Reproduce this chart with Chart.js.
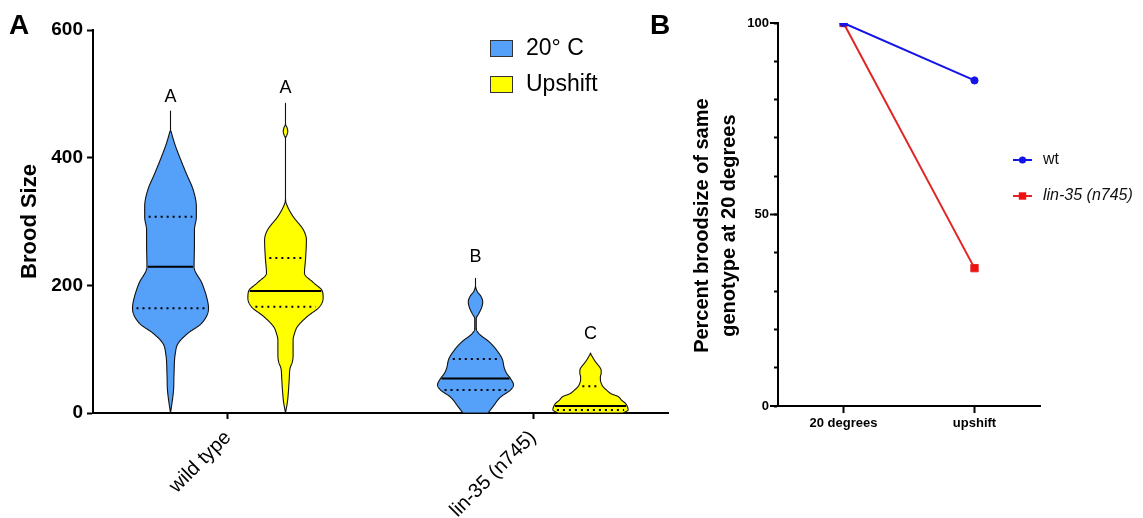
<!DOCTYPE html>
<html><head><meta charset="utf-8">
<script src="https://cdn.jsdelivr.net/npm/chart.js@4.4.1/dist/chart.umd.min.js"></script>
<style>
html,body{margin:0;padding:0;background:#fff;}
#wrap{position:relative;width:1143px;height:518px;overflow:hidden;background:#fff;}
canvas{position:absolute;top:0;}
#cA{left:0;} #cB{left:640px;}
.panel{position:absolute;font:bold 28px "Liberation Sans",Arial,sans-serif;line-height:28px;color:#000;}
</style></head><body>
<div id="wrap">
<canvas id="cA" width="690" height="518"></canvas>
<canvas id="cB" width="503" height="518"></canvas>
<div class="panel" style="left:9px;top:11px">A</div>
<div class="panel" style="left:650px;top:11px">B</div>
</div>
<script>
const FONT = '"Liberation Sans", Arial, sans-serif';

// ---------- Panel A data ----------
const categories = ['wild type', 'lin-35 (n745)'];
const conditions = ['20° C', 'Upshift'];
const yTicksA = [0, 200, 400, 600];

// violin profiles: brood-size levels and relative density (kernel width) at each level
const wt20Levels  = [0, 5, 36, 60, 93, 109, 125, 140, 164, 177, 203, 229, 266, 287, 307, 323, 349, 376, 401, 420, 438, 445, 473];
const wt20Density = [0, 0.013, 0.08, 0.092, 0.126, 0.2, 0.46, 0.81, 1.0, 0.97, 0.83, 0.62, 0.63, 0.63, 0.68, 0.68, 0.6, 0.41, 0.24, 0.12, 0.03, 0, 0];

const wtUpLevels  = [0, 17, 36, 55, 70, 80, 90, 100, 114, 125, 135, 151, 166, 180, 191, 204, 219, 243, 271, 287, 307, 320, 330, 338, 430, 436, 441, 447, 453, 485];
const wtUpDensity = [0, 0.05, 0.08, 0.1, 0.12, 0.18, 0.2, 0.2, 0.2, 0.24, 0.31, 0.57, 0.89, 0.99, 0.97, 0.74, 0.5, 0.53, 0.55, 0.47, 0.21, 0.08, 0.013, 0, 0, 0.04, 0.06, 0.04, 0, 0];

const lin20Levels  = [0, 10, 25, 36, 44, 54, 62, 70, 85, 99, 108, 114, 120, 125, 132, 148, 155, 165, 174, 183, 190, 196, 200, 211];
const lin20Density = [0.33, 0.46, 0.66, 0.92, 1.0, 0.92, 0.82, 0.76, 0.7, 0.55, 0.42, 0.31, 0.17, 0.08, 0.02, 0.02, 0.08, 0.16, 0.19, 0.14, 0.05, 0.01, 0, 0];

const linUpLevels  = [0, 5, 10, 15, 20, 26, 30, 36, 42, 47, 52, 57, 62, 67, 72, 78, 83, 88, 91, 94];
const linUpDensity = [0.86, 0.99, 0.97, 0.92, 0.82, 0.72, 0.55, 0.42, 0.32, 0.28, 0.26, 0.26, 0.28, 0.28, 0.24, 0.16, 0.1, 0.05, 0.02, 0];

const medians        = [229, 191, 54, 11];
const lowerQuartiles = [164, 166.6, 36, 4.7];
const upperQuartiles = [307.5, 243, 84.6, 42];
const sigLetters      = ['A', 'A', 'B', 'C'];
const sigLetterValues = [495, 509, 244, 124];

// ---------- Panel B data ----------
const panelBLabels = ['20 degrees', 'upshift'];
const wtPercent  = [100, 85];
const linPercent = [100, 36];
const yTicksB = [0, 50, 100];
const seriesB = ['wt', 'lin-35 (n745)'];

// ---------- styles ----------
const conditionColors = ['#55A0F8', '#FFFF00'];
const GROUP_OFF = 0.1885;     // violin offset from category centre (category units)
const VIOLIN_HALF = 0.1246;   // max half width (category units)

const violins = [
  {cat: 0, cond: 0, levels: wt20Levels,  density: wt20Density},
  {cat: 0, cond: 1, levels: wtUpLevels,  density: wtUpDensity},
  {cat: 1, cond: 0, levels: lin20Levels, density: lin20Density},
  {cat: 1, cond: 1, levels: linUpLevels, density: linUpDensity}
];

function monotoneInterp(xs, ys) {
  const n = xs.length, d = [], m = [];
  for (let i = 0; i < n - 1; i++) { d[i] = xs[i+1] - xs[i]; m[i] = (ys[i+1] - ys[i]) / d[i]; }
  const t = new Array(n);
  t[0] = m[0]; t[n-1] = m[n-2];
  for (let i = 1; i < n - 1; i++) t[i] = (m[i-1] * m[i] <= 0) ? 0 : (m[i-1] + m[i]) / 2;
  for (let i = 0; i < n - 1; i++) {
    if (m[i] === 0) { t[i] = 0; t[i+1] = 0; continue; }
    const a = t[i] / m[i], b = t[i+1] / m[i], s = a*a + b*b;
    if (s > 9) { const tau = 3 / Math.sqrt(s); t[i] = tau*a*m[i]; t[i+1] = tau*b*m[i]; }
  }
  return x => {
    if (x <= xs[0]) return ys[0];
    if (x >= xs[n-1]) return ys[n-1];
    let i = 0; while (x > xs[i+1]) i++;
    const h = d[i], u = (x - xs[i]) / h, u2 = u*u, u3 = u2*u;
    return (2*u3 - 3*u2 + 1)*ys[i] + (u3 - 2*u2 + u)*h*t[i] + (-2*u3 + 3*u2)*ys[i+1] + (u3 - u2)*h*t[i+1];
  };
}

const violinPlugin = {
  id: 'violins',
  afterDatasetsDraw(chart) {
    const {ctx, scales: {x, y}} = chart;
    const unit = x.getPixelForValue(2) - x.getPixelForValue(1);
    const halfMax = VIOLIN_HALF * unit;
    violins.forEach((v, i) => {
      const cx = x.getPixelForValue(v.cat + 1 + (v.cond === 0 ? -GROUP_OFF : GROUP_OFF));
      const f = monotoneInterp(v.levels, v.density);
      const w = val => Math.max(0, f(val)) * halfMax;
      const lo = v.levels[0], hi = v.levels[v.levels.length - 1];
      const N = 700;
      ctx.save();
      ctx.beginPath();
      for (let k = 0; k <= N; k++) {
        const val = lo + (hi - lo) * k / N;
        const px = cx + w(val), py = y.getPixelForValue(val);
        if (k === 0) ctx.moveTo(px, py); else ctx.lineTo(px, py);
      }
      for (let k = N; k >= 0; k--) {
        const val = lo + (hi - lo) * k / N;
        ctx.lineTo(cx - w(val), y.getPixelForValue(val));
      }
      ctx.closePath();
      ctx.fillStyle = conditionColors[v.cond];
      ctx.fill();
      ctx.lineWidth = 1.1;
      ctx.lineJoin = 'round';
      ctx.strokeStyle = '#111';
      ctx.stroke();

      // median
      const mw = w(medians[i]);
      const my = y.getPixelForValue(medians[i]);
      ctx.beginPath();
      ctx.moveTo(cx - mw + 1, my); ctx.lineTo(cx + mw - 1, my);
      ctx.lineWidth = 2; ctx.strokeStyle = '#000'; ctx.setLineDash([]);
      ctx.stroke();
      // quartiles
      [lowerQuartiles[i], upperQuartiles[i]].forEach(q => {
        const qw = w(q), qy = y.getPixelForValue(q);
        ctx.beginPath();
        ctx.moveTo(cx - qw + 4, qy); ctx.lineTo(cx + qw - 4, qy);
        ctx.setLineDash([2, 4]); ctx.lineCap = 'butt'; ctx.lineWidth = 2;
        ctx.stroke();
      });
      ctx.setLineDash([]);
      // significance letter
      ctx.fillStyle = '#000';
      ctx.font = '18px ' + FONT;
      ctx.textAlign = 'center'; ctx.textBaseline = 'middle';
      ctx.fillText(sigLetters[i], cx, y.getPixelForValue(sigLetterValues[i]));
      ctx.restore();
    });
    // legend
    const ca = chart.chartArea;
    const lx = ca.left + 397, ly = ca.top + 10;
    ctx.save();
    conditions.forEach((c, i) => {
      const by = ly + i * 36;
      ctx.fillStyle = conditionColors[i];
      ctx.fillRect(lx, by, 23, 17);
      ctx.strokeStyle = '#333'; ctx.lineWidth = 1;
      ctx.strokeRect(lx + 0.5, by + 0.5, 22, 16);
      ctx.fillStyle = '#000';
      ctx.font = '23px ' + FONT;
      ctx.textAlign = 'left'; ctx.textBaseline = 'middle';
      ctx.fillText(c, lx + 36, by + 9);
    });
    ctx.restore();
  }
};

new Chart(document.getElementById('cA'), {
  type: 'scatter',
  data: {datasets: []},
  options: {
    responsive: false, animation: false, devicePixelRatio: 1,
    layout: {padding: {left: 0, top: 30, right: 22, bottom: 0}},
    plugins: {legend: {display: false}, tooltip: {enabled: false}},
    scales: {
      x: {
        type: 'linear', min: 0.5574, max: 2.4426, z: 1,
        afterBuildTicks: s => { s.ticks = categories.map((c, i) => ({value: i + 1})); },
        afterFit: s => { s.height = 105; },
        ticks: {autoSkip: false, minRotation: 45, maxRotation: 45, padding: 7, color: '#000',
                font: {family: FONT, size: 20}, callback: (v, i) => categories[i]},
        grid: {drawOnChartArea: false, drawTicks: true, tickLength: 6, tickWidth: 2, tickColor: '#000'},
        border: {display: true, color: '#000', width: 2}
      },
      y: {
        min: 0, max: 600, z: 1,
        afterBuildTicks: s => { s.ticks = yTicksA.map(v => ({value: v})); },
        afterFit: s => { s.width = 93; },
        ticks: {padding: 4, color: '#000', font: {family: FONT, size: 19, weight: 'bold'}},
        grid: {drawOnChartArea: false, tickLength: 6, tickWidth: 2, tickColor: '#000'},
        border: {color: '#000', width: 2},
        title: {display: true, text: 'Brood Size', color: '#000',
                font: {family: FONT, size: 22, weight: 'bold'}, padding: {top: 17, bottom: 0}}
      }
    }
  },
  plugins: [violinPlugin]
});

const panelBExtras = {
  id: 'panelBExtras',
  afterDraw(chart) {
    const {ctx, chartArea: ca, scales: {y}} = chart;
    ctx.save();
    // longer major ticks
    ctx.strokeStyle = '#000'; ctx.lineWidth = 2;
    yTicksB.forEach(v => {
      const py = y.getPixelForValue(v);
      ctx.beginPath(); ctx.moveTo(ca.left - 8, py); ctx.lineTo(ca.left, py); ctx.stroke();
    });
    // legend
    chart.data.datasets.forEach((ds, i) => {
      const ly = ca.top + 137 + i * 36;
      const x0 = ca.right - 27, x1 = ca.right - 8, xm = (x0 + x1) / 2;
      ctx.strokeStyle = ds.borderColor; ctx.lineWidth = 2;
      ctx.beginPath(); ctx.moveTo(x0, ly); ctx.lineTo(x1, ly); ctx.stroke();
      ctx.fillStyle = ds.backgroundColor;
      if (ds.pointStyle === 'rect') ctx.fillRect(xm - 3.7, ly - 3.7, 7.4, 7.4);
      else { ctx.beginPath(); ctx.arc(xm, ly, 3.6, 0, Math.PI * 2); ctx.fill(); }
      ctx.fillStyle = '#111';
      ctx.font = (i === 1 ? 'italic ' : '') + '16px ' + FONT;
      ctx.textAlign = 'left'; ctx.textBaseline = 'middle';
      ctx.fillText(seriesB[i], ca.right + 3, ly);
    });
    ctx.restore();
  }
};

new Chart(document.getElementById('cB'), {
  type: 'line',
  data: {
    labels: panelBLabels,
    datasets: [
      {label: seriesB[0], data: wtPercent, borderColor: '#1414E6', backgroundColor: '#1414E6',
       borderWidth: 2, pointStyle: 'circle', pointRadius: 3.6, pointBorderWidth: 1, fill: false, tension: 0},
      {label: seriesB[1], data: linPercent, borderColor: '#E02424', backgroundColor: '#F01010',
       borderWidth: 2, pointStyle: 'rect', pointRadius: 5.2, pointBorderWidth: 1, fill: false, tension: 0}
    ]
  },
  options: {
    responsive: false, animation: false, devicePixelRatio: 1,
    layout: {padding: {left: 0, top: 23, right: 103, bottom: 0}},
    plugins: {legend: {display: false}, tooltip: {enabled: false}},
    scales: {
      x: {
        type: 'category', offset: true,
        afterFit: s => { s.height = 112; },
        ticks: {padding: 3, color: '#000', maxRotation: 0, font: {family: FONT, size: 13, weight: 'bold'}},
        grid: {drawOnChartArea: false, offset: false, tickLength: 7, tickWidth: 2, tickColor: '#000'},
        border: {color: '#000', width: 2}
      },
      y: {
        min: 0, max: 100,
        afterFit: s => { s.width = 138; },
        ticks: {stepSize: 10, autoSkip: false, padding: 5, color: '#000',
                font: {family: FONT, size: 13, weight: 'bold'},
                callback: v => yTicksB.includes(v) ? String(v) : ''},
        grid: {drawOnChartArea: false, tickLength: 4, tickWidth: 2, tickColor: '#000'},
        border: {color: '#000', width: 2},
        title: {display: true, text: ['Percent broodsize of same    ', 'genotype at 20 degrees    '], color: '#000',
                font: {family: FONT, size: 20, weight: 'bold', lineHeight: 1.35}, padding: {top: 49, bottom: 0}}
      }
    }
  },
  plugins: [panelBExtras]
});
</script>
</body></html>
